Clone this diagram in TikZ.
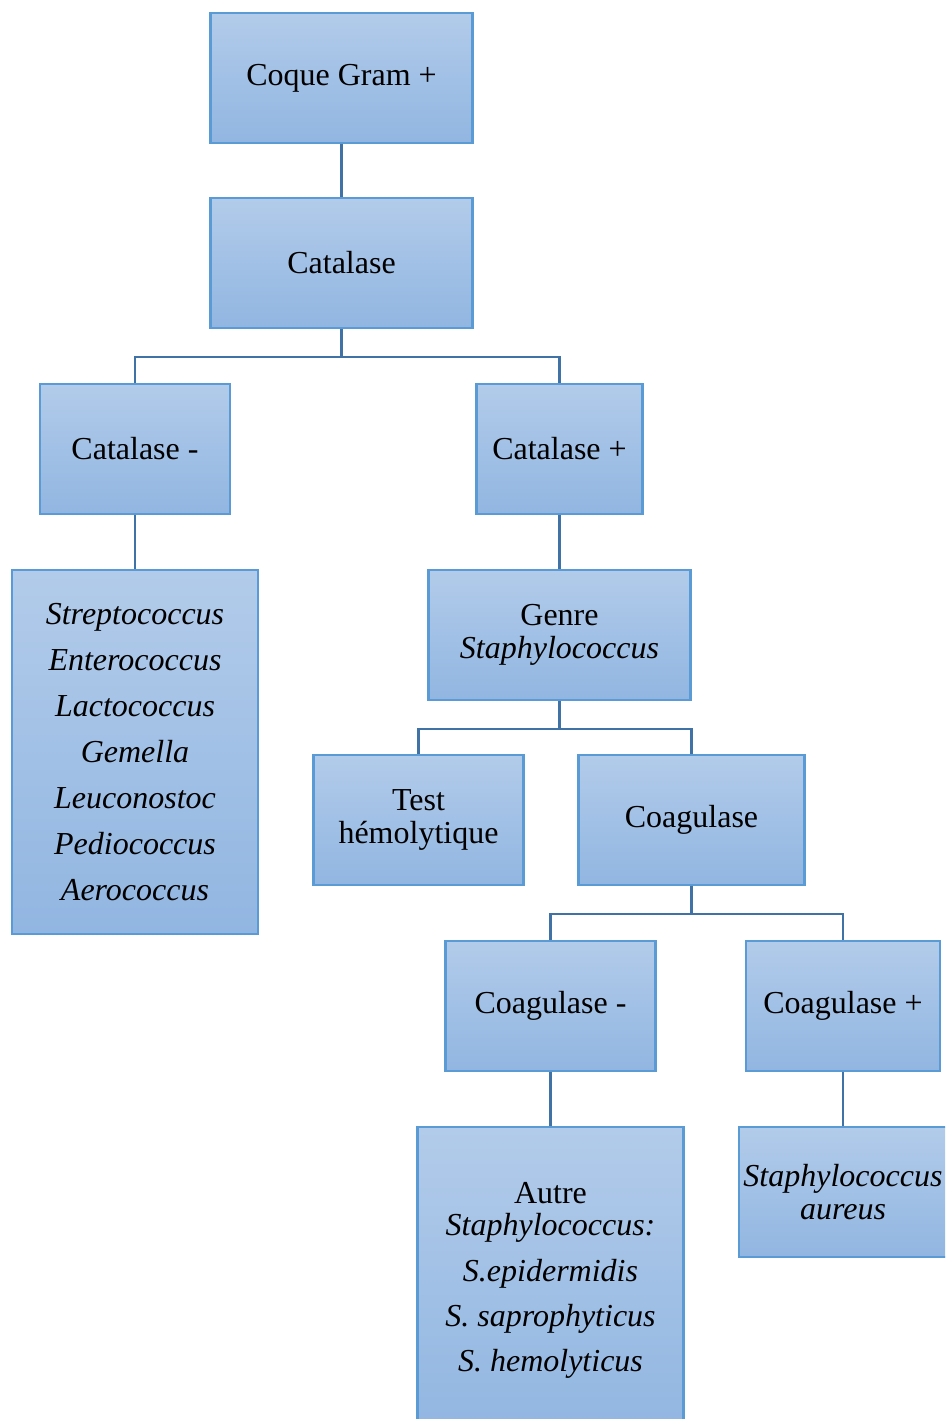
\documentclass[tikz,border=0pt]{standalone}
\usepackage{fontspec}
\setmainfont{Liberation Serif}
\usepackage{tikz}
\usetikzlibrary{positioning,calc}
\definecolor{boxtop}{RGB}{178,203,234}
\definecolor{boxbot}{RGB}{145,182,225}
\definecolor{boxline}{RGB}{91,155,213}
\definecolor{linkcol}{RGB}{65,114,165}
\tikzset{
  box/.style={draw=boxline, line width=2.2pt, top color=boxtop, bottom color=boxbot,
    align=center, inner sep=0pt, font=\fontsize{24}{24.5}\selectfont},
  link/.style={draw=linkcol, line width=2pt}
}

\begin{document}
\begin{tikzpicture}[x=0.75pt,y=-0.75pt]
\clip (0,0) rectangle (945,1419);
% Top of the tree
\node[box, minimum width=196pt, minimum height=97.5pt] (coque) at (341.5,78) {Coque Gram +};
\node[box, minimum width=196pt, minimum height=97.5pt] (catalase) at (341.5,263) {Catalase};

% Catalase split
\node[box, minimum width=142.5pt, minimum height=97.5pt] (catneg) at (135,449) {Catalase -};
\node[box, minimum width=125pt, minimum height=97.5pt] (catpos) at (559.5,449) {Catalase +};

\node[box, minimum width=184.5pt, minimum height=273pt] (streplist) at (135,752) {%
\textit{Streptococcus}\\[10pt] \textit{Enterococcus}\\[10pt] \textit{Lactococcus}\\[10pt]
\textit{Gemella}\\[10pt] \textit{Leuconostoc}\\[10pt] \textit{Pediococcus}\\[10pt] \textit{Aerococcus}};

\node[box, minimum width=196pt, minimum height=97.5pt] (genre) at (559.5,635) {Genre\\ \textit{Staphylococcus}};

% Staphylococcus tests
\node[box, minimum width=157pt, minimum height=97.5pt] (hemo) at (418.5,820) {Test\\ hémolytique};
\node[box, minimum width=170pt, minimum height=97.5pt] (coag) at (691.5,820) {Coagulase};

\node[box, minimum width=158pt, minimum height=97.5pt] (coagneg) at (550.5,1006) {Coagulase -};
\node[box, minimum width=145.5pt, minimum height=97.5pt] (coagpos) at (843,1006) {Coagulase +};

\node[box, minimum width=200pt, minimum height=229.5pt] (autre) at (550.5,1280) {%
Autre\\ \textit{Staphylococcus:}\\[10pt] \textit{S.epidermidis}\\[9pt]
\textit{S. saprophyticus}\\[9pt] \textit{S. hemolyticus}};
\node[box, minimum width=156pt, minimum height=97.5pt] (aureus) at (843,1192) {\textit{Staphylococcus}\\ \textit{aureus}};

% Connectors
\draw[link] (coque.south) -- (catalase.north);
\draw[link] (catalase.south) -- ++(0,27.5) -| (catneg.north);
\draw[link] (catalase.south) -- ++(0,27.5) -| (catpos.north);
\draw[link] (catneg.south) -- (streplist.north);
\draw[link] (catpos.south) -- (genre.north);
\draw[link] (genre.south) -- ++(0,27.5) -| (hemo.north);
\draw[link] (genre.south) -- ++(0,27.5) -| (coag.north);
\draw[link] (coag.south) -- ++(0,27.5) -| (coagneg.north);
\draw[link] (coag.south) -- ++(0,27.5) -| (coagpos.north);
\draw[link] (coagneg.south) -- (autre.north);
\draw[link] (coagpos.south) -- (aureus.north);
\end{tikzpicture}
\end{document}
